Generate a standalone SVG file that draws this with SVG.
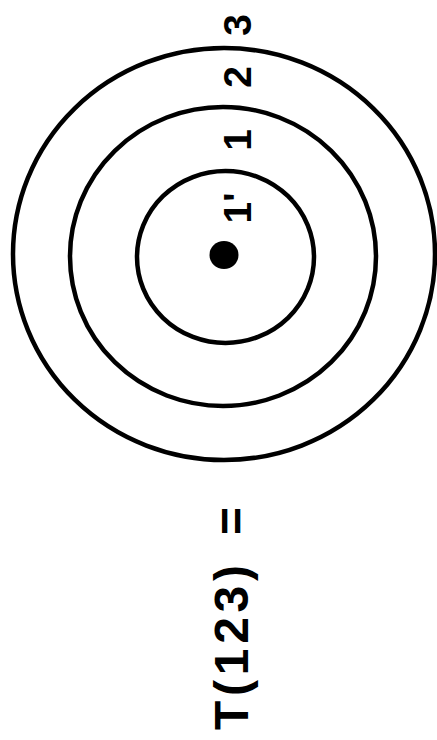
<svg xmlns="http://www.w3.org/2000/svg" width="437" height="740" viewBox="0 0 437 740">
<style>
.ring{fill:none;stroke:#000;stroke-width:4.5}
.lbl{font-family:"Liberation Sans",Arial,sans-serif;font-weight:bold;fill:#000}
</style>
<rect width="437" height="740" fill="#fff"/>
<g id="ring3"><ellipse class="ring" cx="224" cy="254" rx="211" ry="206"/></g>
<g id="ring2"><ellipse class="ring" cx="223" cy="256.5" rx="153" ry="149.5"/></g>
<g id="ring1p"><ellipse class="ring" cx="225.5" cy="257" rx="88.5" ry="86"/></g>
<g id="center"><ellipse cx="224" cy="255" rx="14.5" ry="14" fill="#000"/></g>
<g id="labels" class="lbl" font-size="39" text-anchor="middle">
<text transform="translate(251,25) rotate(-90)">3</text>
<text transform="translate(251,77) rotate(-90)">2</text>
<text transform="translate(251,140) rotate(-90)">1</text>
<text transform="translate(251,208) rotate(-90)">1'</text>
</g>
<g id="formula" class="lbl" font-size="48">
<text transform="translate(248,730) rotate(-90)" textLength="165" lengthAdjust="spacing">T(123)</text>
<text transform="translate(248,535) rotate(-90)">=</text>
</g>
</svg>
